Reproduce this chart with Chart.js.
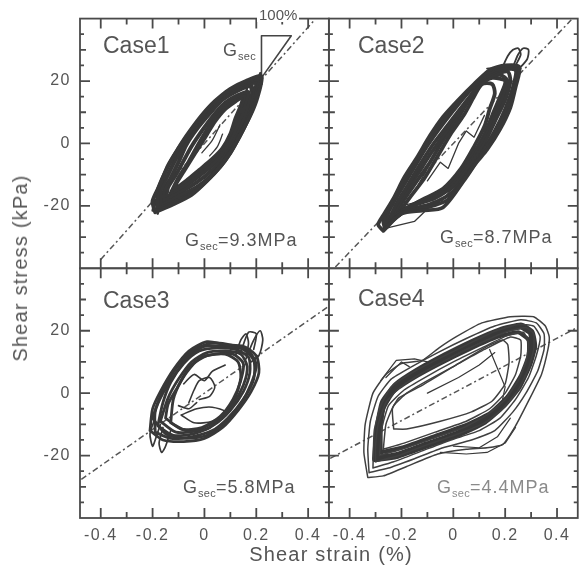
<!DOCTYPE html>
<html><head><meta charset="utf-8">
<script src="https://cdn.jsdelivr.net/npm/chart.js@4.4.1/dist/chart.umd.min.js"></script>
<style>
html,body{margin:0;padding:0;background:#fff;overflow:hidden;width:582px;height:569px;}
#wrap{position:absolute;left:0;top:0;width:592px;height:569px;}
canvas{display:block;}
.t{position:absolute;font-family:'Liberation Sans',Arial,Helvetica,sans-serif;color:#555;white-space:nowrap;line-height:1;}
.case{font-size:23px;}
.g{font-size:18px;letter-spacing:1px;}
.g sub{font-size:11px;vertical-align:-4px;line-height:0;letter-spacing:0.3px;}
.ax{font-size:20px;letter-spacing:1.2px;transform:translate(-50%,-50%);}
.axv{font-size:20px;letter-spacing:1.2px;transform:translate(-50%,-50%) rotate(-90deg);}
.pct{font-size:15px;background:#fff;padding:0 2px;}
</style></head>
<body>
<div id="wrap"><canvas id="c" width="592" height="569"></canvas></div>
<script>
// ---------- axes / labels ----------
const xRange = [-0.48, 0.48];
const yRange = [-40, 40];
const xTickValues = [-0.4, -0.2, 0, 0.2, 0.4];
const xTickLabels = ['-0.4', '-0.2', '0', '0.2', '0.4'];
const xMinorTicks = [-0.3, -0.1, 0.1, 0.3];
const yTickValues = [-20, 0, 20];
const yTickLabels = ['-20', '0', '20'];
const yMidTicks = [-30, -10, 10, 30];
const yMinorTicks = [-35, -25, -15, -5, 5, 15, 25, 35];
const caseNames = ['Case1', 'Case2', 'Case3', 'Case4'];
const gsecValues = ['9.3', '8.7', '5.8', '4.4'];
const xTitle = 'Shear strain (%)';
const yTitle = 'Shear stress (kPa)';

// ---------- secant lines (strain %, stress kPa) ----------
const secant1 = [[-0.40, -37.2], [0.42, 39.1]];
const secant2 = [[-0.455, -39.6], [0.455, 39.6]];
const secant3 = [[-0.475, -27.6], [0.475, 27.6]];
const secant4 = [[-0.475, -20.9], [0.475, 20.9]];
const gsecTriangle = [[0.22, 34.5], [0.335, 34.5], [0.22, 21], [0.22, 34.5]];

// ---------- Case 1 loops ----------
const c1Loop1 = [[-0.19,-22],[-0.12,-19.5],[-0.05,-16.5],[0.01,-12],[0.06,-7.5],[0.1,-3],[0.14,3],[0.18,9.5],[0.205,15],[0.22,21.5],[0.16,20],[0.1,17.5],[0.04,13.5],[-0.01,9],[-0.06,3.5],[-0.1,-1.5],[-0.14,-7],[-0.17,-13],[-0.2,-18.5],[-0.19,-22]];
const c1Loop2 = [[-0.18,-21],[-0.11,-18.5],[-0.04,-15.5],[0.02,-11],[0.07,-6.5],[0.11,-1.5],[0.15,4.5],[0.185,11],[0.2,16],[0.21,20.5],[0.15,19],[0.09,16.5],[0.03,12.5],[-0.02,7.5],[-0.07,2],[-0.11,-3],[-0.15,-9],[-0.18,-15],[-0.18,-21]];
const c1Loop3 = [[-0.17,-20],[-0.1,-17],[-0.03,-14],[0.03,-10],[0.08,-5],[0.12,0.5],[0.16,6.5],[0.18,11.5],[0.195,17],[0.2,19.5],[0.14,18],[0.08,15.5],[0.02,11],[-0.03,6],[-0.07,0.5],[-0.11,-5],[-0.14,-10],[-0.17,-15.5],[-0.17,-20]];
const c1Loop4 = [[-0.16,-18.5],[-0.1,-16],[-0.03,-12.5],[0.03,-8.5],[0.08,-4],[0.12,1.5],[0.15,7],[0.17,12],[0.185,16.5],[0.18,18.5],[0.13,17],[0.07,14],[0.02,9.5],[-0.03,4.5],[-0.07,-0.5],[-0.1,-6],[-0.13,-11],[-0.155,-15],[-0.16,-18.5]];
const c1Loop5 = [[-0.15,-17.5],[-0.09,-14.5],[-0.03,-11],[0.03,-7],[0.08,-2.5],[0.11,2],[0.14,7.5],[0.16,12.5],[0.17,16.5],[0.13,15.5],[0.08,13],[0.03,8.5],[-0.01,4],[-0.05,-1],[-0.08,-5.5],[-0.11,-10],[-0.14,-14],[-0.15,-17.5]];
const c1Loop6 = [[-0.13,-16],[-0.08,-13],[-0.02,-9.5],[0.03,-6],[0.075,-2],[0.105,2.5],[0.13,8],[0.15,12.5],[0.16,15.5],[0.12,14.5],[0.08,12],[0.035,7.5],[0.0,3],[-0.035,-2],[-0.065,-6.5],[-0.1,-11],[-0.13,-16]];
const c1Loop7 = [[-0.12,-15],[-0.07,-12],[-0.02,-8.5],[0.03,-5],[0.07,-1.5],[0.1,3],[0.12,8],[0.14,12],[0.15,15],[0.12,13.5],[0.08,11],[0.04,7],[0.01,3],[-0.02,-1],[-0.05,-5],[-0.08,-9],[-0.11,-13],[-0.12,-15]];
const c1Inner1 = [[-0.01,-3],[0.03,1],[0.06,6]];
const c1Inner2 = [[0.02,-4],[0.05,-1],[0.07,3]];
const c1SpikesTop = [[0.16,16],[0.17,20],[0.18,17],[0.19,21],[0.2,18],[0.215,22.5],[0.22,19]];
const c1SpikesBottom = [[-0.14,-15],[-0.16,-21],[-0.17,-17],[-0.18,-22.5],[-0.19,-18],[-0.2,-21.5]];

// ---------- Case 2 loops ----------
const c2Loop1 = [[-0.27,-28],[-0.2,-22.5],[-0.12,-21.5],[-0.04,-20.5],[0.04,-12],[0.09,-6],[0.13,-2],[0.18,4.5],[0.22,11.5],[0.24,18],[0.255,24.5],[0.2,25],[0.14,23.5],[0.08,19],[0.02,14],[-0.04,8.5],[-0.09,2.5],[-0.14,-4.5],[-0.19,-11],[-0.23,-17.5],[-0.27,-23],[-0.29,-26],[-0.27,-28]];
const c2Loop2 = [[-0.26,-26],[-0.18,-21.5],[-0.09,-19.5],[-0.01,-16],[0.06,-9],[0.11,-3],[0.16,4],[0.2,11],[0.23,18],[0.24,23.5],[0.18,23.5],[0.12,21],[0.06,16.5],[0.0,10.5],[-0.06,4],[-0.11,-2],[-0.16,-9],[-0.21,-16],[-0.25,-22],[-0.26,-26]];
const c2Loop3 = [[-0.25,-24.5],[-0.16,-20],[-0.07,-17.5],[0.01,-13],[0.07,-6.5],[0.12,0],[0.16,7],[0.2,14],[0.22,20],[0.21,23],[0.16,22],[0.1,18.5],[0.04,12.5],[-0.02,6],[-0.08,-0.5],[-0.13,-7],[-0.18,-14],[-0.22,-19.5],[-0.25,-24.5]];
const c2Loop4 = [[-0.23,-23],[-0.14,-19],[-0.05,-15.5],[0.02,-10],[0.08,-3],[0.12,3],[0.15,9],[0.18,15],[0.2,20],[0.15,21],[0.1,19],[0.06,14],[0.01,7],[-0.04,1],[-0.09,-6],[-0.14,-12],[-0.19,-18],[-0.23,-23]];
const c2Loop5 = [[-0.21,-22],[-0.12,-18],[-0.04,-14.5],[0.03,-8],[0.08,-1],[0.12,5.5],[0.14,11],[0.16,16],[0.15,19],[0.11,19],[0.08,15],[0.04,9],[-0.01,3],[-0.06,-4],[-0.11,-11],[-0.16,-16.5],[-0.21,-22]];
const c2Loop6 = [[-0.265,-27],[-0.19,-22],[-0.1,-20.5],[-0.02,-18],[0.05,-10.5],[0.1,-4.5],[0.17,4.3],[0.21,11.3],[0.235,18],[0.25,24],[0.19,24.2],[0.13,22.2],[0.07,17.8],[0.01,12.2],[-0.05,6.2],[-0.1,0.2],[-0.15,-6.8],[-0.2,-13.5],[-0.24,-19.8],[-0.27,-24.5],[-0.265,-27]];
const c2Loop7 = [[-0.24,-23.8],[-0.15,-19.5],[-0.06,-16.5],[0.015,-11.5],[0.075,-4.8],[0.12,1.5],[0.155,8],[0.19,14.5],[0.21,20],[0.18,22],[0.13,20.5],[0.08,16.2],[0.025,9.8],[-0.03,3.5],[-0.085,-3],[-0.135,-9.5],[-0.185,-16],[-0.24,-23.8]];
const c2Petal1 = [[0.19,24.5],[0.21,28],[0.23,30],[0.25,30.5],[0.26,28.5],[0.24,25]];
const c2Petal2 = [[0.23,24.5],[0.25,28.5],[0.27,30.5],[0.29,30],[0.285,27],[0.26,24.5]];
const c2Top = [[0.13,24],[0.2,24.5],[0.26,24]];
const c2Inner1 = [[-0.2,-21],[-0.14,-14],[-0.1,-8],[-0.06,-2],[-0.02,3],[0.02,9],[0.06,15],[0.1,19]];
const c2Inner2 = [[-0.1,-12],[-0.05,-6],[-0.02,-8],[0.02,0],[0.05,4],[0.08,2],[0.12,9]];
const c2Bottom1 = [[-0.25,-27],[-0.15,-25],[-0.1,-21]];
const c2Bottom2 = [[-0.2,-20],[-0.1,-18],[-0.05,-19],[0.0,-14]];

// ---------- Case 3 loops ----------
const c3Loop1 = [[-0.21,-12],[-0.16,-15],[-0.08,-15.5],[0.0,-14.5],[0.07,-11],[0.13,-5.5],[0.18,0.5],[0.21,6.5],[0.2,12],[0.15,15],[0.08,15.5],[0.01,16.5],[-0.06,13.5],[-0.12,7.5],[-0.17,0.5],[-0.2,-5],[-0.21,-12]];
const c3Loop2 = [[-0.19,-12.5],[-0.13,-14.5],[-0.05,-14],[0.03,-12],[0.09,-8],[0.15,-2],[0.19,4.5],[0.19,10.5],[0.15,14],[0.08,15],[0.0,15],[-0.06,12],[-0.11,6.5],[-0.16,0],[-0.19,-6],[-0.19,-12.5]];
const c3Loop3 = [[-0.18,-10.5],[-0.12,-13.5],[-0.04,-13],[0.04,-10],[0.1,-5.5],[0.15,0.5],[0.175,6.5],[0.17,11.5],[0.12,14],[0.05,14.5],[-0.02,13.5],[-0.08,9.5],[-0.13,3.5],[-0.16,-3],[-0.18,-10.5]];
const c3Loop4 = [[-0.17,-9],[-0.11,-12.5],[-0.03,-12],[0.05,-8.5],[0.11,-3.5],[0.15,2.5],[0.165,8.5],[0.14,12.5],[0.08,13.5],[0.01,13],[-0.05,10],[-0.1,4.5],[-0.14,-1.5],[-0.17,-9]];
const c3Loop5 = [[-0.15,-8],[-0.09,-11.5],[-0.01,-11],[0.06,-7.5],[0.11,-2],[0.14,4],[0.15,9.5],[0.11,12.5],[0.04,12.5],[-0.02,11],[-0.07,6.5],[-0.11,1],[-0.14,-3.5],[-0.15,-8]];
const c3Loop6 = [[-0.2,-8],[-0.15,-13],[-0.07,-14.5],[0.01,-13.5],[0.08,-9.5],[0.14,-3.5],[0.18,3],[0.2,9],[0.17,13.5],[0.1,15.5],[0.03,16],[-0.04,14],[-0.1,9],[-0.15,2.5],[-0.18,-3],[-0.2,-8]];
const c3Loop7 = [[-0.13,-9.5],[-0.07,-12],[0.01,-11.5],[0.07,-7],[0.12,-1],[0.14,5],[0.13,10],[0.08,12.5],[0.01,12],[-0.05,9],[-0.09,4],[-0.12,-2],[-0.13,-9.5]];
const c3Mouth = [[-0.09,-7],[-0.04,-9.5],[0.03,-9],[0.08,-6],[0.03,-4.5],[-0.03,-5],[-0.09,-7]];
const c3Inner1 = [[-0.06,-3],[-0.04,1],[-0.02,4],[0.02,5],[0.04,2],[0.02,-1],[-0.02,-2]];
const c3Inner2 = [[-0.1,-4],[-0.06,-5],[-0.03,-3]];
const c3Inner3 = [[-0.08,3],[-0.04,6],[0.0,4],[0.03,7],[0.08,9]];
const c3Petal1 = [[0.12,12],[0.14,17],[0.16,19],[0.17,16],[0.16,12]];
const c3Petal2 = [[0.16,11],[0.19,17],[0.215,20],[0.225,17],[0.21,12],[0.18,10]];
const c3Petal3 = [[0.14,13],[0.17,19.5],[0.2,19],[0.19,14]];
const c3Petal4 = [[-0.13,-12],[-0.15,-17],[-0.165,-19],[-0.175,-16],[-0.16,-11]];
const c3Petal5 = [[-0.17,-10],[-0.19,-15],[-0.2,-17],[-0.21,-13],[-0.19,-8]];

// ---------- Case 4 loops ----------
const c4LoopA = [[-0.33,-27],[-0.27,-26.5],[-0.18,-23.5],[-0.06,-19.5],[0.05,-18],[0.13,-17.5],[0.19,-16.5],[0.24,-10.5],[0.29,-2.5],[0.34,6],[0.365,14],[0.37,18],[0.355,21.5],[0.31,24.5],[0.22,24.5],[0.11,22.5],[0.01,18],[-0.055,14.5],[-0.12,10.5],[-0.2,9.5],[-0.26,6],[-0.31,0],[-0.34,-10],[-0.345,-19],[-0.33,-27]];
const c4LoopB = [[-0.325,-25.5],[-0.25,-24],[-0.15,-21],[-0.04,-17.5],[0.07,-15],[0.16,-12],[0.23,-6],[0.28,0],[0.325,7],[0.35,14],[0.35,19],[0.32,22.5],[0.26,23.5],[0.16,21.5],[0.05,17.5],[-0.06,13],[-0.16,8.5],[-0.24,4.5],[-0.29,-1],[-0.32,-9],[-0.33,-18],[-0.325,-25.5]];
const c4LoopC = [[-0.31,-24],[-0.23,-22],[-0.12,-18.5],[-0.01,-15],[0.1,-12],[0.18,-8],[0.24,-2],[0.29,5],[0.32,12],[0.335,18],[0.31,21.5],[0.25,22],[0.15,19.5],[0.04,15],[-0.07,10.5],[-0.17,6],[-0.24,2],[-0.28,-4],[-0.305,-12],[-0.31,-24]];
const c4LoopD = [[-0.3,-22],[-0.21,-20],[-0.1,-16.5],[0.02,-13],[0.12,-9.5],[0.19,-5],[0.25,1],[0.29,8],[0.31,14],[0.31,19],[0.28,21],[0.2,19.5],[0.09,15.5],[-0.02,11],[-0.13,6],[-0.21,1.5],[-0.26,-3],[-0.29,-10],[-0.3,-17],[-0.3,-22]];
const c4LoopE = [[-0.285,-20],[-0.2,-18],[-0.08,-14.5],[0.04,-11],[0.13,-7],[0.2,-2],[0.25,4],[0.28,10],[0.29,16],[0.27,19.5],[0.21,18.5],[0.11,14.5],[0.0,10],[-0.11,5],[-0.19,1],[-0.25,-4],[-0.275,-11],[-0.285,-20]];
const c4LoopF = [[-0.27,-18],[-0.19,-16],[-0.07,-12.5],[0.05,-9],[0.14,-5],[0.2,0],[0.24,6],[0.26,12],[0.26,17],[0.22,18],[0.12,14],[0.01,9],[-0.1,4],[-0.18,0],[-0.23,-4],[-0.26,-10],[-0.27,-18]];
const c4LoopG = [[-0.23,-11.5],[-0.18,-11.5],[-0.05,-9],[0.07,-6],[0.15,-2.5],[0.2,3],[0.215,10],[0.21,15.5],[0.19,17],[0.13,15],[0.01,9],[-0.12,2.5],[-0.21,-1.5],[-0.235,-5],[-0.23,-11.5]];
const c4Core1 = [[-0.3,-21],[-0.22,-20],[-0.1,-16.5],[0.02,-13],[0.12,-9],[0.19,-4],[0.25,2],[0.29,9],[0.31,15],[0.3,19.5],[0.26,21.5],[0.18,20],[0.08,16.5],[-0.03,12],[-0.14,7],[-0.22,2.5],[-0.27,-3],[-0.29,-11],[-0.3,-21]];
const c4Core2 = [[-0.28,-19],[-0.2,-17.5],[-0.08,-14],[0.04,-10.5],[0.14,-6.5],[0.21,-1],[0.26,5.5],[0.29,12],[0.29,17],[0.25,19.5],[0.17,18],[0.06,14],[-0.05,9.5],[-0.15,5],[-0.23,0.5],[-0.27,-5],[-0.28,-12],[-0.28,-19]];
const c4Inner1 = [[0.14,14],[0.17,8],[0.2,2],[0.19,-2]];
const c4Inner2 = [[-0.1,0],[0.02,5],[0.1,9],[0.16,13]];
const c4Bump1 = [[-0.28,4],[-0.22,10.5],[-0.15,11],[-0.1,10]];
const c4Bump2 = [[-0.26,5],[-0.2,10],[-0.17,8.5]];
const c4Tail1 = [[-0.05,-19],[0.05,-19.5],[0.13,-19],[0.2,-16],[0.24,-11]];
const c4Tail2 = [[0.0,-17],[0.1,-17.5],[0.17,-14],[0.22,-8]];

// ---------- build datasets ----------
const INK = '#383838';
function lineDS(pts, xID, yID, width, opts) {
  return Object.assign({
    data: pts.map(p => ({x: p[0], y: p[1]})),
    xAxisID: xID, yAxisID: yID, showLine: true, fill: false,
    borderColor: INK, borderWidth: width, pointRadius: 0, pointHoverRadius: 0,
    tension: 0.25, borderCapStyle: 'round', borderJoinStyle: 'round'
  }, opts || {});
}
function dashDS(pts, xID, yID) {
  return lineDS(pts, xID, yID, 1.5, {borderColor: '#555', borderDash: [6, 3, 2, 3], tension: 0, borderCapStyle: 'butt'});
}
const datasets = [];
[c1Loop1, c1Loop2, c1Loop3, c1Loop4, c1Loop5, c1Loop6, c1Loop7].forEach(l => datasets.push(lineDS(l, 'xL', 'yTop', 4)));
[c1Inner1, c1Inner2].forEach(l => datasets.push(lineDS(l, 'xL', 'yTop', 1.3)));
[c1SpikesTop, c1SpikesBottom].forEach(l => datasets.push(lineDS(l, 'xL', 'yTop', 2.4, {tension: 0})));
datasets.push(lineDS(gsecTriangle, 'xL', 'yTop', 1.6, {tension: 0, borderColor: '#444'}));

[c2Loop1, c2Loop6, c2Loop2, c2Loop3, c2Loop7, c2Loop4, c2Loop5].forEach(l => datasets.push(lineDS(l, 'xR', 'yTop', 3.8)));
[c2Petal1, c2Petal2, c2Top].forEach(l => datasets.push(lineDS(l, 'xR', 'yTop', 1.8)));
[c2Inner1, c2Inner2, c2Bottom1, c2Bottom2].forEach(l => datasets.push(lineDS(l, 'xR', 'yTop', 1.3, {tension: 0})));

[c3Loop1, c3Loop6, c3Loop2, c3Loop3, c3Loop4, c3Loop5, c3Loop7].forEach(l => datasets.push(lineDS(l, 'xL', 'yBot', 2.8)));
[c3Mouth, c3Inner1, c3Inner2, c3Inner3].forEach(l => datasets.push(lineDS(l, 'xL', 'yBot', 1.6)));
[c3Petal1, c3Petal2, c3Petal3, c3Petal4, c3Petal5].forEach(l => datasets.push(lineDS(l, 'xL', 'yBot', 1.7)));

[c4LoopA, c4LoopB, c4LoopC, c4LoopD, c4LoopE, c4LoopF, c4LoopG].forEach(l => datasets.push(lineDS(l, 'xR', 'yBot', 1.5, {tension: 0.15, borderColor: '#404040'})));
datasets.push(lineDS(c4Core1, 'xR', 'yBot', 7, {tension: 0.15}));
datasets.push(lineDS(c4Core2, 'xR', 'yBot', 4, {tension: 0.15}));
[c4Inner1, c4Inner2, c4Bump1, c4Bump2, c4Tail1, c4Tail2].forEach(l => datasets.push(lineDS(l, 'xR', 'yBot', 1.2, {tension: 0})));

datasets.push(dashDS(secant1, 'xL', 'yTop'));
datasets.push(dashDS(secant2, 'xR', 'yTop'));
datasets.push(dashDS(secant3, 'xL', 'yBot'));
datasets.push(dashDS(secant4, 'xR', 'yBot'));

// ---------- scales ----------
const FONT = "'Liberation Sans', Arial, Helvetica, sans-serif";
function xScale(weight) {
  return {
    type: 'linear', position: 'bottom', stack: 'xs', stackWeight: 1, weight: weight,
    min: xRange[0], max: xRange[1],
    grid: {display: false, drawTicks: false}, border: {display: false},
    ticks: {padding: 8, color: '#555', autoSkip: false, maxRotation: 0, font: {family: FONT, size: 16},
      callback: (v) => xTickLabels[xTickValues.indexOf(v)]},
    afterBuildTicks: s => { s.ticks = xTickValues.map(v => ({value: v})); },
    afterFit: s => { s.height = 51; }
  };
}
function yScale(weight) {
  return {
    type: 'linear', position: 'left', stack: 'ys', stackWeight: 1, weight: weight,
    min: yRange[0], max: yRange[1],
    grid: {display: false, drawTicks: false}, border: {display: false},
    ticks: {padding: 9, color: '#555', autoSkip: false, font: {family: FONT, size: 16},
      callback: (v) => yTickLabels[yTickValues.indexOf(v)]},
    afterBuildTicks: s => { s.ticks = yTickValues.map(v => ({value: v})); },
    afterFit: s => { s.width = 80; }
  };
}

const panels = [['xL', 'yTop'], ['xR', 'yTop'], ['xL', 'yBot'], ['xR', 'yBot']];
const framePlugin = {
  id: 'frames',
  beforeInit(chart) { chart.ctx.letterSpacing = '1.5px'; },
  beforeDraw(chart) { chart.ctx.letterSpacing = '1.5px'; },
  afterDraw(chart) {
    const ctx = chart.ctx;
    ctx.save();
    ctx.strokeStyle = '#4a4a4a';
    ctx.lineWidth = 1.8;
    for (const [xid, yid] of panels) {
      const xs = chart.scales[xid], ys = chart.scales[yid];
      const L = xs.left, R = xs.right, T = ys.top, B = ys.bottom;
      ctx.strokeRect(L, T, R - L, B - T);
      ctx.beginPath();
      const tx = (v, len) => { const p = xs.getPixelForValue(v); ctx.moveTo(p, B); ctx.lineTo(p, B - len); ctx.moveTo(p, T); ctx.lineTo(p, T + len); };
      const ty = (v, len) => { const p = ys.getPixelForValue(v); ctx.moveTo(L, p); ctx.lineTo(L + len, p); ctx.moveTo(R, p); ctx.lineTo(R - len, p); };
      xTickValues.forEach(v => tx(v, 10));
      xMinorTicks.forEach(v => tx(v, 6));
      yTickValues.forEach(v => ty(v, 10));
      yMidTicks.forEach(v => ty(v, 6));
      yMinorTicks.forEach(v => ty(v, 4));
      ctx.stroke();
    }
    ctx.restore();
  }
};

const chart = new Chart(document.getElementById('c'), {
  type: 'scatter',
  data: {datasets: datasets},
  options: {
    responsive: false, animation: false, events: [],
    layout: {padding: {left: 0, top: 14, right: 9, bottom: 0}},
    plugins: {legend: {display: false}, tooltip: {enabled: false}, title: {display: false}},
    scales: {
      xL: xScale(1), xR: xScale(2),
      yTop: yScale(2), yBot: yScale(1)
    }
  },
  plugins: [framePlugin]
});

// ---------- text labels (real text) ----------
const wrap = document.getElementById('wrap');
function addText(cls, html, left, top, color) {
  const d = document.createElement('div');
  d.className = 't ' + cls;
  d.innerHTML = html;
  d.style.left = left + 'px';
  d.style.top = top + 'px';
  if (color) d.style.color = color;
  wrap.appendChild(d);
  return d;
}
const casePos = [[103, 34], [358, 34], [103, 289], [358, 287]];
const gsecPos = [[185, 231], [440, 228], [183, 478], [437, 478]];
caseNames.forEach((n, i) => addText('case', n, casePos[i][0], casePos[i][1]));
gsecValues.forEach((g, i) => addText('g', 'G<sub>sec</sub>=' + g + 'MPa', gsecPos[i][0], gsecPos[i][1], i === 3 ? '#8a8a8a' : null));
addText('g', 'G<sub>sec</sub>', 223, 41);
addText('pct', '100%', 257, 7);
addText('ax', xTitle, 331, 554);
addText('axv', yTitle, 20, 268);
</script>
</body></html>
